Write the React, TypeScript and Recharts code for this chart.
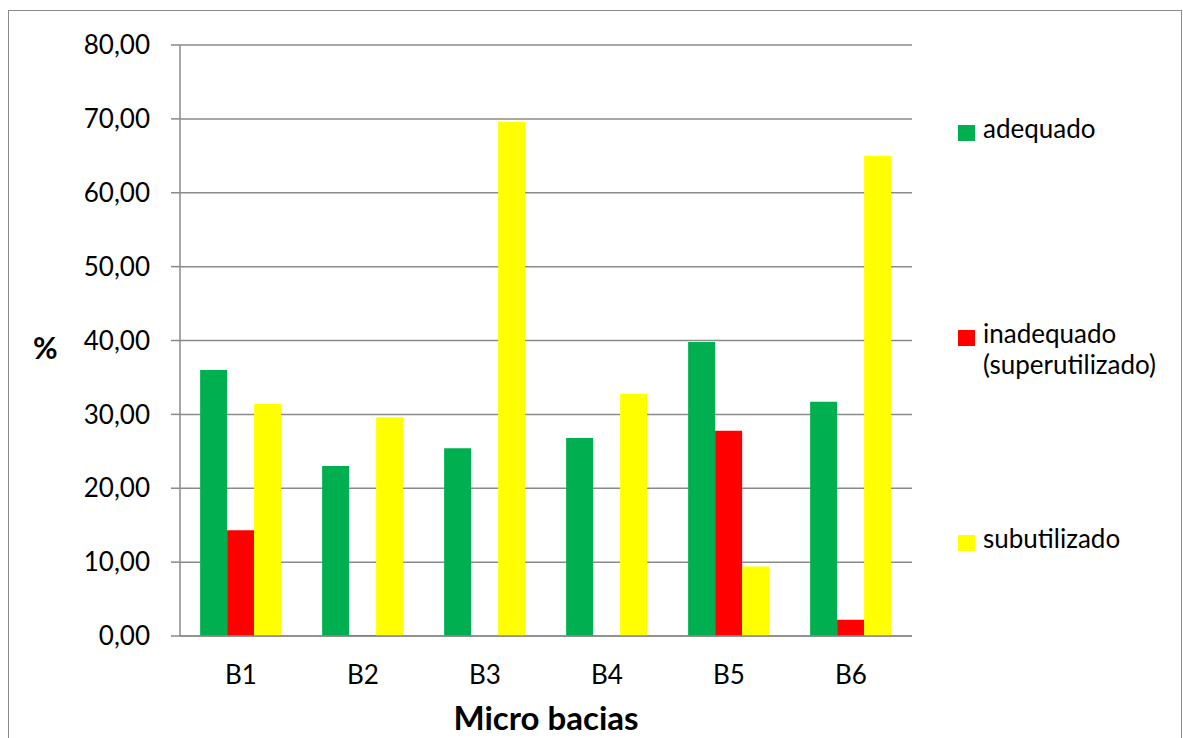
import React from 'react';
import {
  BarChart,
  Bar,
  XAxis,
  YAxis,
  CartesianGrid,
} from 'recharts';

// micro basin land-use classes, % of area
const bacias = ['B1', 'B2', 'B3', 'B4', 'B5', 'B6'];
const adequado = [36.0, 23.0, 25.4, 26.8, 39.8, 31.7];
const inadequado = [14.3, 0.1, 0, 0, 27.8, 2.2];
const subutilizado = [31.4, 29.6, 69.6, 32.8, 9.4, 65.0];

const yTicks = [0, 10, 20, 30, 40, 50, 60, 70, 80];
const edgeTicks = [0, 1, 2, 3, 4, 5, 6];

const series = [
  { key: 'adequado', name: ['adequado'], color: '#00B050' },
  { key: 'inadequado', name: ['inadequado', '(superutilizado)'], color: '#FF0000' },
  { key: 'subutilizado', name: ['subutilizado'], color: '#FFFF00' },
];

const data = bacias.map((b, i) => ({
  bacia: b,
  adequado: adequado[i],
  inadequado: inadequado[i],
  subutilizado: subutilizado[i],
}));

const FONT = 'Lato, "Noto Sans", sans-serif';
const GRAY = '#8a8a8a';

function fmt(v: number) {
  return v.toFixed(2).replace('.', ',');
}

function SideLegend() {
  return (
    <div style={{ position: 'absolute', left: 949, top: 114, fontFamily: FONT, fontSize: 26, color: '#000' }}>
      {series.map((s, i) => (
        <div key={s.key} style={{ position: 'absolute', top: i * 205, left: 0, whiteSpace: 'nowrap' }}>
          <div style={{ position: 'absolute', left: 0, top: 0, width: 17, height: 16, background: s.color }} />
          <div style={{ position: 'absolute', left: 25, top: -12, lineHeight: '31px' }}>
            {s.name.map((line) => (
              <div key={line}>{line}</div>
            ))}
          </div>
        </div>
      ))}
    </div>
  );
}

export default function App() {
  return (
    <div
      style={{
        position: 'fixed',
        left: 8,
        top: 10,
        width: 1172,
        height: 728,
        borderTop: `1px solid ${GRAY}`,
        borderLeft: `1px solid ${GRAY}`,
        borderRight: `1px solid ${GRAY}`,
        background: '#fff',
      }}
    >
      <BarChart
        width={1172}
        height={727}
        data={data}
        margin={{ top: 34, right: 269, left: 21, bottom: 0 }}
        barCategoryGap="16.5%"
        barGap={0}
        style={{ fontFamily: FONT }}
      >
        <CartesianGrid vertical={false} stroke={GRAY} strokeWidth={1.5} />
        {/* category boundary ticks */}
        <XAxis
          xAxisId="edges"
          type="number"
          domain={[0, 6]}
          ticks={edgeTicks}
          tick={false}
          tickSize={10}
          tickLine={{ stroke: GRAY, strokeWidth: 1.5 }}
          axisLine={false}
          height={0}
          allowDataOverflow
        />
        <XAxis
          dataKey="bacia"
          tickLine={false}
          tickSize={10}
          tickMargin={20}
          axisLine={{ stroke: GRAY, strokeWidth: 1.5 }}
          tick={{ fill: '#000', fontSize: 26 }}
          height={102}
          label={{
            value: 'Micro bacias',
            position: 'insideBottom',
            offset: 8,
            fill: '#000',
            fontSize: 33,
            fontWeight: 'bold',
          }}
        />
        <YAxis
          domain={[0, 80]}
          ticks={yTicks}
          tickFormatter={fmt}
          width={150}
          tickSize={9}
          tickMargin={21}
          tickLine={{ stroke: GRAY, strokeWidth: 1.5 }}
          axisLine={{ stroke: GRAY, strokeWidth: 1.5 }}
          tick={{ fill: '#000', fontSize: 26 }}
          label={{
            value: '%',
            position: 'insideLeft',
            offset: 3,
            dy: 8,
            fill: '#000',
            fontSize: 30,
            fontWeight: 'bold',
          }}
        />
        {series.map((s) => (
          <Bar key={s.key} dataKey={s.key} fill={s.color} isAnimationActive={false} />
        ))}
      </BarChart>
      <SideLegend />
    </div>
  );
}
